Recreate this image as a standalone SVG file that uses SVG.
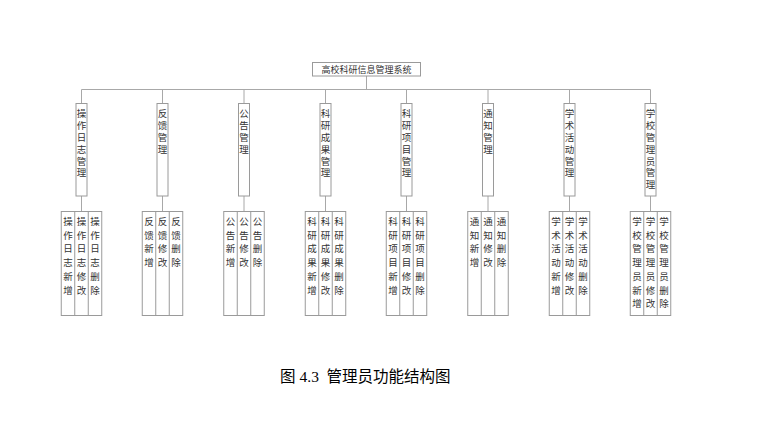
<svg xmlns="http://www.w3.org/2000/svg" width="765" height="422" viewBox="0 0 765 422">
<style>
.box{fill:#fff;stroke:#9a9a9a;stroke-width:1}
.ln{stroke:#a8a8a8;stroke-width:1;fill:none}
.t{font-family:"Noto Sans CJK SC","Noto Sans",sans-serif;font-size:9.5px;fill:#333;text-anchor:middle}
.cap{font-family:"Noto Sans CJK SC",sans-serif;font-size:15.5px;fill:#000}
</style>
<rect width="765" height="422" fill="#fff"/>
<g id="connectors">
<path class="ln" d="M366.5 76V89.5M81.5 89.5H650.5
M81.5 89.5V103.5M162.5 89.5V103.5M244 89.5V103.5M325.5 89.5V103.5M406.5 89.5V103.5M488 89.5V103.5M569.5 89.5V103.5M650.5 89.5V103.5
M81.5 196V211.5M162.5 196V211.5M244 196V211.5M325.5 196V211.5M406.5 196V211.5M488 196V211.5M569.5 196V211.5M650.5 196V211.5"/>
</g>
<g id="root">
<rect class="box" x="312.5" y="62.5" width="108" height="13.5"/>
<text class="t" x="366.5" y="72.8" style="font-size:9px">高校科研信息管理系统</text>
</g>
<g id="n1">
<rect class="box" x="76" y="103.5" width="11" height="92.5"/>
<text class="t" x="81.5"><tspan x="81.5" y="117.4">操</tspan><tspan x="81.5" y="129.2">作</tspan><tspan x="81.5" y="141">日</tspan><tspan x="81.5" y="152.8">志</tspan><tspan x="81.5" y="164.6">管</tspan><tspan x="81.5" y="176.4">理</tspan></text>
</g>
<g id="n2">
<rect class="box" x="157" y="103.5" width="11" height="92.5"/>
<text class="t"><tspan x="162.5" y="117.4">反</tspan><tspan x="162.5" y="129.2">馈</tspan><tspan x="162.5" y="141">管</tspan><tspan x="162.5" y="152.8">理</tspan></text>
</g>
<g id="n3">
<rect class="box" x="238.5" y="103.5" width="11" height="92.5"/>
<text class="t"><tspan x="244" y="117.4">公</tspan><tspan x="244" y="129.2">告</tspan><tspan x="244" y="141">管</tspan><tspan x="244" y="152.8">理</tspan></text>
</g>
<g id="n4">
<rect class="box" x="320" y="103.5" width="11" height="92.5"/>
<text class="t"><tspan x="325.5" y="117.4">科</tspan><tspan x="325.5" y="129.2">研</tspan><tspan x="325.5" y="141">成</tspan><tspan x="325.5" y="152.8">果</tspan><tspan x="325.5" y="164.6">管</tspan><tspan x="325.5" y="176.4">理</tspan></text>
</g>
<g id="n5">
<rect class="box" x="401" y="103.5" width="11" height="92.5"/>
<text class="t"><tspan x="406.5" y="117.4">科</tspan><tspan x="406.5" y="129.2">研</tspan><tspan x="406.5" y="141">项</tspan><tspan x="406.5" y="152.8">目</tspan><tspan x="406.5" y="164.6">管</tspan><tspan x="406.5" y="176.4">理</tspan></text>
</g>
<g id="n6">
<rect class="box" x="482.5" y="103.5" width="11" height="92.5"/>
<text class="t"><tspan x="488" y="117.4">通</tspan><tspan x="488" y="129.2">知</tspan><tspan x="488" y="141">管</tspan><tspan x="488" y="152.8">理</tspan></text>
</g>
<g id="n7">
<rect class="box" x="564" y="103.5" width="11" height="92.5"/>
<text class="t"><tspan x="569.5" y="117.4">学</tspan><tspan x="569.5" y="129.2">术</tspan><tspan x="569.5" y="141">活</tspan><tspan x="569.5" y="152.8">动</tspan><tspan x="569.5" y="164.6">管</tspan><tspan x="569.5" y="176.4">理</tspan></text>
</g>
<g id="n8">
<rect class="box" x="645" y="103.5" width="11" height="92.5"/>
<text class="t"><tspan x="650.5" y="117.4">学</tspan><tspan x="650.5" y="129.2">校</tspan><tspan x="650.5" y="141">管</tspan><tspan x="650.5" y="152.8">理</tspan><tspan x="650.5" y="164.6">员</tspan><tspan x="650.5" y="176.4">管</tspan><tspan x="650.5" y="188.2">理</tspan></text>
</g>
<g id="s1">
<rect class="box" x="61.25" y="211.5" width="40.5" height="104"/>
<path class="ln" d="M74.75 211.5V315.5M88.25 211.5V315.5" style="stroke:#9a9a9a"/>
<text class="t"><tspan x="68" y="225">操</tspan><tspan x="68" y="238.7">作</tspan><tspan x="68" y="252.4">日</tspan><tspan x="68" y="266.1">志</tspan><tspan x="68" y="279.8">新</tspan><tspan x="68" y="293.5">增</tspan></text>
<text class="t"><tspan x="81.5" y="225">操</tspan><tspan x="81.5" y="238.7">作</tspan><tspan x="81.5" y="252.4">日</tspan><tspan x="81.5" y="266.1">志</tspan><tspan x="81.5" y="279.8">修</tspan><tspan x="81.5" y="293.5">改</tspan></text>
<text class="t"><tspan x="95" y="225">操</tspan><tspan x="95" y="238.7">作</tspan><tspan x="95" y="252.4">日</tspan><tspan x="95" y="266.1">志</tspan><tspan x="95" y="279.8">删</tspan><tspan x="95" y="293.5">除</tspan></text>
</g>
<g id="s2">
<rect class="box" x="142.25" y="211.5" width="40.5" height="104"/>
<path class="ln" d="M155.75 211.5V315.5M169.25 211.5V315.5" style="stroke:#9a9a9a"/>
<text class="t"><tspan x="149" y="225">反</tspan><tspan x="149" y="238.7">馈</tspan><tspan x="149" y="252.4">新</tspan><tspan x="149" y="266.1">增</tspan></text>
<text class="t"><tspan x="162.5" y="225">反</tspan><tspan x="162.5" y="238.7">馈</tspan><tspan x="162.5" y="252.4">修</tspan><tspan x="162.5" y="266.1">改</tspan></text>
<text class="t"><tspan x="176" y="225">反</tspan><tspan x="176" y="238.7">馈</tspan><tspan x="176" y="252.4">删</tspan><tspan x="176" y="266.1">除</tspan></text>
</g>
<g id="s3">
<rect class="box" x="223.75" y="211.5" width="40.5" height="104"/>
<path class="ln" d="M237.25 211.5V315.5M250.75 211.5V315.5" style="stroke:#9a9a9a"/>
<text class="t"><tspan x="230.5" y="225">公</tspan><tspan x="230.5" y="238.7">告</tspan><tspan x="230.5" y="252.4">新</tspan><tspan x="230.5" y="266.1">增</tspan></text>
<text class="t"><tspan x="244" y="225">公</tspan><tspan x="244" y="238.7">告</tspan><tspan x="244" y="252.4">修</tspan><tspan x="244" y="266.1">改</tspan></text>
<text class="t"><tspan x="257.5" y="225">公</tspan><tspan x="257.5" y="238.7">告</tspan><tspan x="257.5" y="252.4">删</tspan><tspan x="257.5" y="266.1">除</tspan></text>
</g>
<g id="s4">
<rect class="box" x="305.25" y="211.5" width="40.5" height="104"/>
<path class="ln" d="M318.75 211.5V315.5M332.25 211.5V315.5" style="stroke:#9a9a9a"/>
<text class="t"><tspan x="312" y="225">科</tspan><tspan x="312" y="238.7">研</tspan><tspan x="312" y="252.4">成</tspan><tspan x="312" y="266.1">果</tspan><tspan x="312" y="279.8">新</tspan><tspan x="312" y="293.5">增</tspan></text>
<text class="t"><tspan x="325.5" y="225">科</tspan><tspan x="325.5" y="238.7">研</tspan><tspan x="325.5" y="252.4">成</tspan><tspan x="325.5" y="266.1">果</tspan><tspan x="325.5" y="279.8">修</tspan><tspan x="325.5" y="293.5">改</tspan></text>
<text class="t"><tspan x="339" y="225">科</tspan><tspan x="339" y="238.7">研</tspan><tspan x="339" y="252.4">成</tspan><tspan x="339" y="266.1">果</tspan><tspan x="339" y="279.8">删</tspan><tspan x="339" y="293.5">除</tspan></text>
</g>
<g id="s5">
<rect class="box" x="386.25" y="211.5" width="40.5" height="104"/>
<path class="ln" d="M399.75 211.5V315.5M413.25 211.5V315.5" style="stroke:#9a9a9a"/>
<text class="t"><tspan x="393" y="225">科</tspan><tspan x="393" y="238.7">研</tspan><tspan x="393" y="252.4">项</tspan><tspan x="393" y="266.1">目</tspan><tspan x="393" y="279.8">新</tspan><tspan x="393" y="293.5">增</tspan></text>
<text class="t"><tspan x="406.5" y="225">科</tspan><tspan x="406.5" y="238.7">研</tspan><tspan x="406.5" y="252.4">项</tspan><tspan x="406.5" y="266.1">目</tspan><tspan x="406.5" y="279.8">修</tspan><tspan x="406.5" y="293.5">改</tspan></text>
<text class="t"><tspan x="420" y="225">科</tspan><tspan x="420" y="238.7">研</tspan><tspan x="420" y="252.4">项</tspan><tspan x="420" y="266.1">目</tspan><tspan x="420" y="279.8">删</tspan><tspan x="420" y="293.5">除</tspan></text>
</g>
<g id="s6">
<rect class="box" x="467.75" y="211.5" width="40.5" height="104"/>
<path class="ln" d="M481.25 211.5V315.5M494.75 211.5V315.5" style="stroke:#9a9a9a"/>
<text class="t"><tspan x="474.5" y="225">通</tspan><tspan x="474.5" y="238.7">知</tspan><tspan x="474.5" y="252.4">新</tspan><tspan x="474.5" y="266.1">增</tspan></text>
<text class="t"><tspan x="488" y="225">通</tspan><tspan x="488" y="238.7">知</tspan><tspan x="488" y="252.4">修</tspan><tspan x="488" y="266.1">改</tspan></text>
<text class="t"><tspan x="501.5" y="225">通</tspan><tspan x="501.5" y="238.7">知</tspan><tspan x="501.5" y="252.4">删</tspan><tspan x="501.5" y="266.1">除</tspan></text>
</g>
<g id="s7">
<rect class="box" x="549.25" y="211.5" width="40.5" height="104"/>
<path class="ln" d="M562.75 211.5V315.5M576.25 211.5V315.5" style="stroke:#9a9a9a"/>
<text class="t"><tspan x="556" y="225">学</tspan><tspan x="556" y="238.7">术</tspan><tspan x="556" y="252.4">活</tspan><tspan x="556" y="266.1">动</tspan><tspan x="556" y="279.8">新</tspan><tspan x="556" y="293.5">增</tspan></text>
<text class="t"><tspan x="569.5" y="225">学</tspan><tspan x="569.5" y="238.7">术</tspan><tspan x="569.5" y="252.4">活</tspan><tspan x="569.5" y="266.1">动</tspan><tspan x="569.5" y="279.8">修</tspan><tspan x="569.5" y="293.5">改</tspan></text>
<text class="t"><tspan x="583" y="225">学</tspan><tspan x="583" y="238.7">术</tspan><tspan x="583" y="252.4">活</tspan><tspan x="583" y="266.1">动</tspan><tspan x="583" y="279.8">删</tspan><tspan x="583" y="293.5">除</tspan></text>
</g>
<g id="s8">
<rect class="box" x="630.25" y="211.5" width="40.5" height="104"/>
<path class="ln" d="M643.75 211.5V315.5M657.25 211.5V315.5" style="stroke:#9a9a9a"/>
<text class="t"><tspan x="637" y="225">学</tspan><tspan x="637" y="238.7">校</tspan><tspan x="637" y="252.4">管</tspan><tspan x="637" y="266.1">理</tspan><tspan x="637" y="279.8">员</tspan><tspan x="637" y="293.5">新</tspan><tspan x="637" y="307.2">增</tspan></text>
<text class="t"><tspan x="650.5" y="225">学</tspan><tspan x="650.5" y="238.7">校</tspan><tspan x="650.5" y="252.4">管</tspan><tspan x="650.5" y="266.1">理</tspan><tspan x="650.5" y="279.8">员</tspan><tspan x="650.5" y="293.5">修</tspan><tspan x="650.5" y="307.2">改</tspan></text>
<text class="t"><tspan x="664" y="225">学</tspan><tspan x="664" y="238.7">校</tspan><tspan x="664" y="252.4">管</tspan><tspan x="664" y="266.1">理</tspan><tspan x="664" y="279.8">员</tspan><tspan x="664" y="293.5">删</tspan><tspan x="664" y="307.2">除</tspan></text>
</g>
<text class="cap" y="382"><tspan x="280">图</tspan><tspan x="299.5" style="font-family:'Liberation Serif',serif">4.3</tspan><tspan x="326.5">管理员功能结构图</tspan></text>
</svg>
